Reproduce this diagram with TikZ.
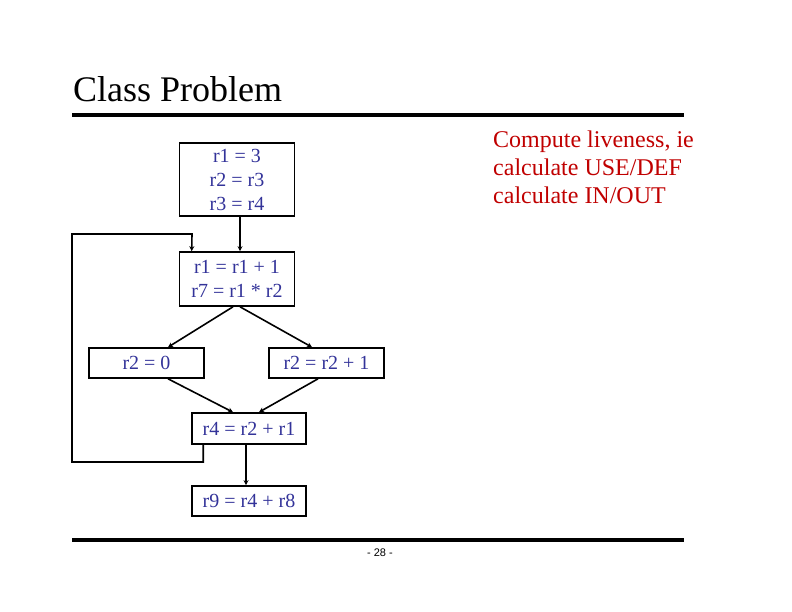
\documentclass[tikz,border=0pt]{standalone}
\usepackage{fontspec}
\setmainfont{Liberation Serif}
\newfontfamily\pagefont{Liberation Sans}
\usetikzlibrary{arrows.meta}
\definecolor{Ink}{HTML}{333399}
\definecolor{Note}{HTML}{C00000}

\begin{document}
\begin{tikzpicture}[x=1pt,y=-1pt,
        blk/.style={draw,line width=1.6pt,align=center,text=Ink,inner sep=0pt,
                    font=\fontsize{20}{24}\selectfont},
        arr/.style={line width=1.6pt,-{Stealth[length=5pt,width=5pt]}},
        rule/.style={line width=4.5pt}
      ]
        \useasboundingbox (0,0) rectangle (792,612);
        \node[anchor=base west,font=\fontsize{36}{40}\selectfont,inner sep=0pt] (title) at (73,102) {Class Problem};
        \draw[rule] (72,115) -- (684,115);
        \draw[rule] (72,540) -- (684,540);
        \node[font=\pagefont\fontsize{11}{13}\selectfont,inner sep=0pt] (page) at (380,553) {- 28 -};
        \node[anchor=north west,align=left,text=Note,inner sep=0pt,
              font=\fontsize{24}{28}\selectfont] (note) at (493,131) {Compute liveness, ie\\calculate USE/DEF\\calculate IN/OUT};
        \node[blk,minimum width=115pt,minimum height=73pt] (b1) at (237,179.5) {r1 = 3\\r2 = r3\\r3 = r4};
        \node[blk,minimum width=115pt,minimum height=54pt] (b2) at (237,279) {r1 = r1 + 1\\r7 = r1 * r2};
        \node[blk,minimum width=115pt,minimum height=30pt] (b3) at (146.5,363) {r2 = 0};
        \node[blk,minimum width=115pt,minimum height=30pt] (b4) at (326.5,363) {r2 = r2 + 1};
        \node[blk,minimum width=114pt,minimum height=31pt] (b5) at (249,428.5) {r4 = r2 + r1};
        \node[blk,minimum width=114pt,minimum height=30pt] (b6) at (249,501) {r9 = r4 + r8};
        \draw[arr] ([xshift=3pt]b1.south) -- ([xshift=3pt]b2.north);
        \draw[arr] ([xshift=-4pt]b2.south) -- ([xshift=21.5pt]b3.north);
        \draw[arr] ([xshift=3pt]b2.south) -- ([xshift=-14.5pt]b4.north);
        \draw[arr] ([xshift=21.5pt]b3.south) -- ([xshift=-16pt]b5.north);
        \draw[arr] ([xshift=-8.5pt]b4.south) -- ([xshift=10pt]b5.north);
        \draw[arr] ([xshift=-3pt]b5.south) -- ([xshift=-3pt]b6.north);
        \draw[arr] ([xshift=12pt]b5.south west) |- (72,462) |- (192,234) -- ([xshift=13pt]b2.north west);
      \end{tikzpicture}
\end{document}
